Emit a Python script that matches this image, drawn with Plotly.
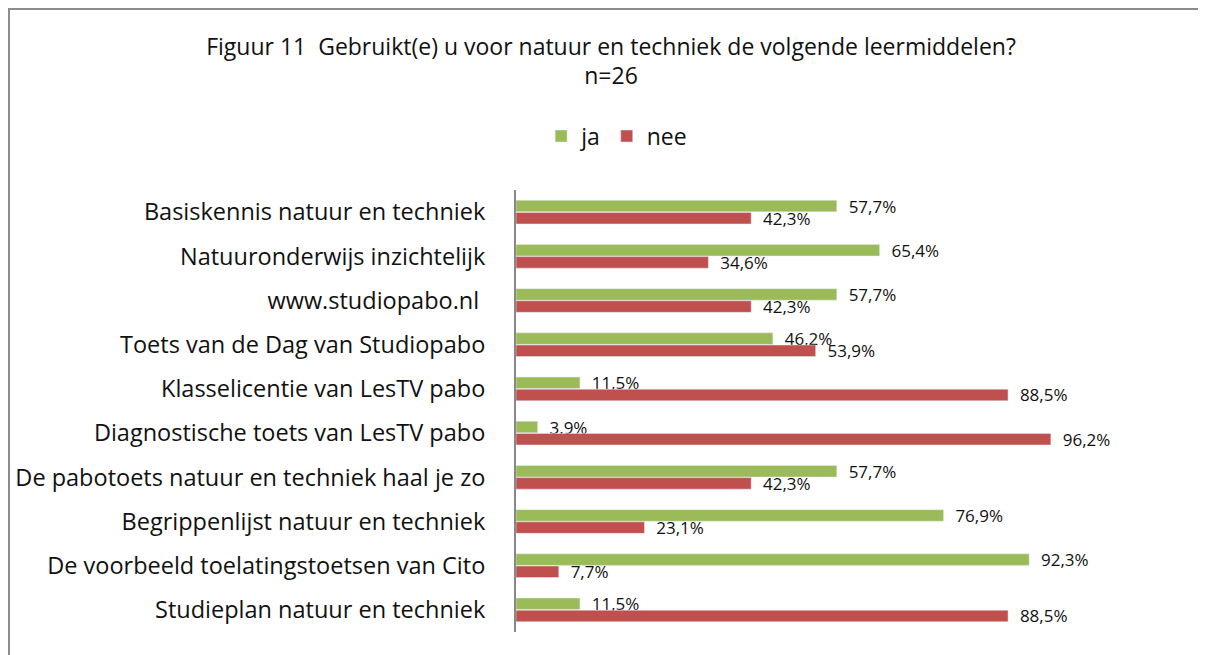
import plotly.graph_objects as go

# --- DATA ---
categories = [
    "Basiskennis natuur en techniek",
    "Natuuronderwijs inzichtelijk",
    "www.studiopabo.nl ",
    "Toets van de Dag van Studiopabo",
    "Klasselicentie van LesTV pabo",
    "Diagnostische toets van LesTV pabo",
    "De pabotoets natuur en techniek haal je zo",
    "Begrippenlijst natuur en techniek",
    "De voorbeeld toelatingstoetsen van Cito",
    "Studieplan natuur en techniek",
]
ja = [57.7, 65.4, 57.7, 46.2, 11.5, 3.9, 57.7, 76.9, 92.3, 11.5]
nee = [42.3, 34.6, 42.3, 53.9, 88.5, 96.2, 42.3, 23.1, 7.7, 88.5]

GREEN = '#9bbb59'
RED = '#c0504d'
FONT = "'Open Sans', sans-serif"


def pct_label(v):
    return "  " + f"{v:.1f}".replace(".", ",") + "%"


fig = go.Figure()
for name, vals, color in [('ja', ja, GREEN), ('nee', nee, RED)]:
    fig.add_trace(go.Bar(
        y=categories, x=[v / 100 for v in vals], name=name, orientation='h',
        marker_color=color, text=[pct_label(v) for v in vals],
        textposition='outside', constraintext='none',
        textfont=dict(size=17, color='#111'),
        cliponaxis=False,
    ))

# plot area: page 516..1072 x 190..632 (page has 8px body margin)
fig.update_layout(
    width=1206, height=655,
    title=dict(text="Figuur 11  Gebruikt(e) u voor natuur en techniek de volgende leermiddelen?<br>n=26",
               x=0.5, xanchor='center', y=0.929, yanchor='top',
               font=dict(size=23, color='#111', family=FONT)),
    font=dict(family=FONT, color='#111'),
    barmode='group', bargap=0.45, bargroupgap=0.05,
    margin=dict(l=508, r=142, t=182, b=31),
    paper_bgcolor='white', plot_bgcolor='white',
    showlegend=True,
    legend=dict(orientation='h', x=0.181, xanchor='center', y=1.122, yanchor='middle',
                font=dict(size=23), traceorder='normal', itemwidth=30),
)
fig.update_xaxes(range=[0, 1.0], visible=False)
fig.update_yaxes(autorange='reversed', showline=True, linecolor='#888', linewidth=2,
                 ticks='', tickfont=dict(size=23.5, color='#111'), ticklabelstandoff=24,
                 automargin=False)

# chart border
fig.add_shape(type='rect', xref='paper', yref='paper',
              x0=-507 / 556, x1=1.3, y0=-0.2, y1=1 + 181 / 442,
              line=dict(color='#8c8c8c', width=2))

fig.write_html("out.html")
